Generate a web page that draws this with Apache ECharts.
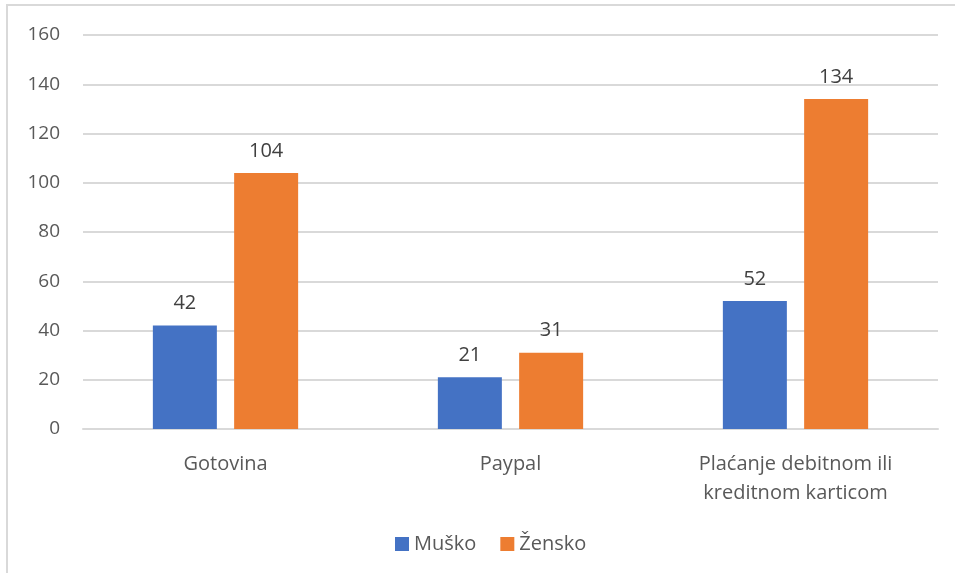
<!DOCTYPE html>
<html>
<head>
<meta charset="utf-8">
<script src="https://cdn.jsdelivr.net/npm/echarts@6/dist/echarts.min.js"></script>
<style>
  html, body { margin: 0; padding: 0; background: #fff; }
  #chart { width: 955px; height: 573px; }
</style>
</head>
<body>
<div id="chart"></div>
<script>
// Payment methods by gender
const categories = ['Gotovina', 'Paypal', 'Plaćanje debitnom ili\nkreditnom karticom'];
const musko = [42, 21, 52];
const zensko = [104, 31, 134];
const seriesNames = ['Muško', 'Žensko'];

const FONT = '"Open Sans", "Noto Sans", sans-serif';
const chart = echarts.init(document.getElementById('chart'), null, { renderer: 'canvas' });

const labelStyle = {
  show: true,
  position: 'top',
  distance: 12,
  color: '#404040',
  fontSize: 20,
  fontFamily: FONT
};

chart.setOption({
  animation: false,
  backgroundColor: '#fff',
  textStyle: { fontFamily: FONT },
  graphic: [{
    type: 'rect',
    shape: { x: 7, y: 5, width: 960, height: 600 },
    style: { fill: 'none', stroke: '#d9d9d9', lineWidth: 2 },
    silent: true
  }],
  grid: { left: 83, right: 17, top: 35, bottom: 144, containLabel: false },
  legend: {
    bottom: 14,
    left: 390,
    itemWidth: 14,
    itemHeight: 14,
    itemGap: 24,
    icon: 'rect',
    textStyle: { color: '#595959', fontSize: 20, fontFamily: FONT },
    data: seriesNames
  },
  xAxis: {
    type: 'category',
    data: categories,
    axisLine: { show: true, lineStyle: { color: '#d9d9d9', width: 2 } },
    axisTick: { show: false },
    axisLabel: {
      color: '#595959',
      fontSize: 20,
      fontFamily: FONT,
      margin: 21,
      lineHeight: 29,
      interval: 0
    }
  },
  yAxis: {
    type: 'value',
    min: 0,
    max: 160,
    interval: 20,
    axisLine: { show: false },
    axisTick: { show: false },
    splitLine: { lineStyle: { color: '#d9d9d9', width: 2 } },
    axisLabel: { color: '#595959', fontSize: 19, fontFamily: FONT, margin: 23 }
  },
  series: [
    {
      name: seriesNames[0],
      type: 'bar',
      data: musko,
      barWidth: 64,
      barGap: '27%',
      itemStyle: { color: '#4472C4' },
      label: labelStyle
    },
    {
      name: seriesNames[1],
      type: 'bar',
      data: zensko,
      barWidth: 64,
      barGap: '27%',
      itemStyle: { color: '#ED7D31' },
      label: labelStyle
    }
  ]
});
</script>
</body>
</html>
